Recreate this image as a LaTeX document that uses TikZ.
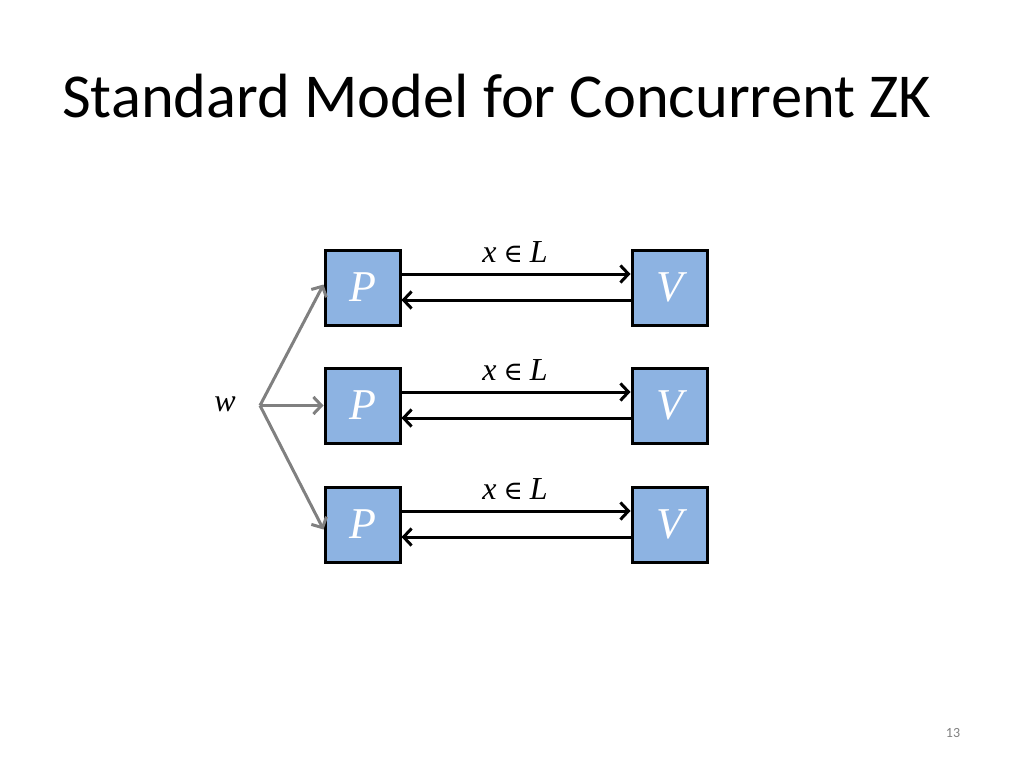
\documentclass[tikz,border=0pt]{standalone}
\usepackage{fontspec}
\setmainfont{Carlito}
\newfontfamily\mvar{Liberation Serif}
\newfontfamily\msym{DejaVu Serif}
\usetikzlibrary{arrows.meta}
\definecolor{boxblue}{HTML}{8DB3E2}
\definecolor{arrgray}{HTML}{808080}
\newcommand{\mv}[1]{{\mvar\itshape #1}}
\begin{document}
\begin{tikzpicture}[x=1pt,y=-1pt,
  party/.style={draw=black,line width=3pt,fill=boxblue,minimum width=75pt,minimum height=75pt,inner sep=0pt,text=white,font=\fontsize{44}{48}\selectfont},
  msg/.style={line width=3pt,-{Straight Barb[length=8pt,width=17pt,line width=3pt]}},
  feed/.style={arrgray,line width=3pt,-{Straight Barb[length=8pt,width=17pt,line width=3pt]}},
  lbl/.style={font=\fontsize{32}{36}\selectfont}]
\useasboundingbox (0,0) rectangle (1024,768);
\node[anchor=base west,font=\fontsize{62.5}{66}\selectfont,inner sep=0pt] (title) at (62,117) {Standard Model for Concurrent ZK};
\foreach \r/\y in {1/287.5,2/405.5,3/524.5}{
  \node[party] (P\r) at (362.5,\y) {\mv{P}};
  \node[party] (V\r) at (669.5,\y) {\mv{V}};
  \draw[msg] ([yshift=13.5pt]P\r.east) -- ([yshift=13.5pt]V\r.west);
  \draw[msg] ([yshift=-12.5pt]V\r.west) -- ([yshift=-12.5pt]P\r.east);
  \node[lbl] (L\r) at (515,\y-35) {\mv{x}\hspace{7pt}{\msym\fontsize{26}{30}\selectfont ∈}\hspace{7pt}\mv{L}};
}
\node[lbl] (w) at (225,404) {\mv{w}};
\coordinate (src) at (260,405.5);
\draw[feed] (src) -- ([yshift=3pt]P1.west);
\draw[feed] (src) -- (P2.west);
\draw[feed] (src) -- ([yshift=-5pt]P3.west);
\node[text=arrgray,font=\fontsize{14}{16}\selectfont] (num) at (953,733) {13};
\end{tikzpicture}
\end{document}
